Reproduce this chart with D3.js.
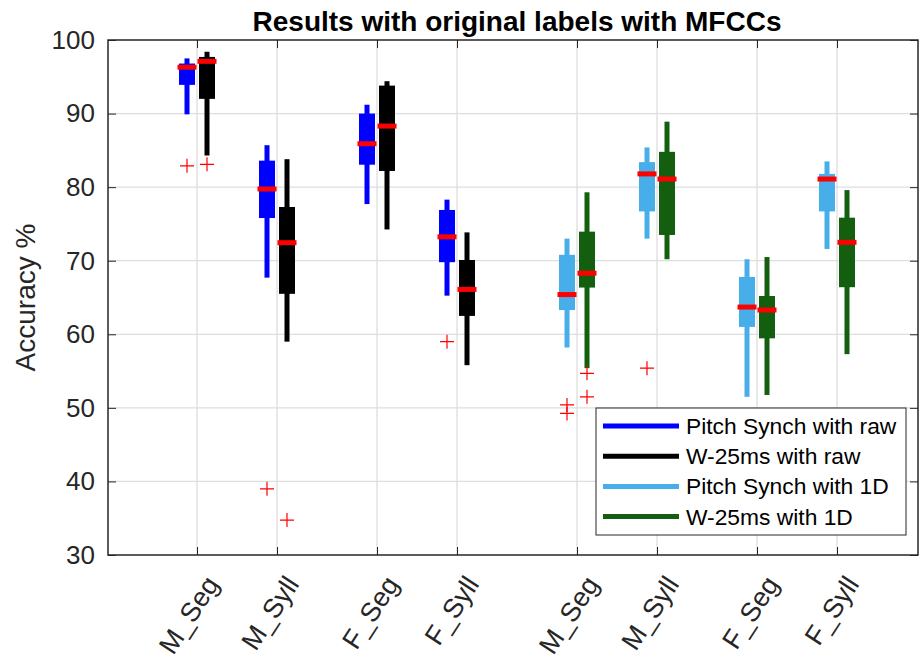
<!DOCTYPE html>
<html>
<head>
<meta charset="utf-8">
<script src="https://cdn.jsdelivr.net/npm/d3@7/dist/d3.min.js"></script>
<style>
  html, body { margin: 0; padding: 0; background: #fff; }
  svg { display: block; font-family: "Liberation Sans", Arial, Helvetica, sans-serif; }
</style>
</head>
<body>
<svg id="chart" width="922" height="658"></svg>
<script>
// Category labels along the x axis and where each group sits
const categories = ["M_Seg", "M_Syll", "F_Seg", "F_Syll", "M_Seg", "M_Syll", "F_Seg", "F_Syll"];
const tickPositions = [1, 1.8, 2.8, 3.6, 4.8, 5.6, 6.6, 7.4];
const yTicks = [30, 40, 50, 60, 70, 80, 90, 100];

// Box statistics per category: [lower whisker, Q1, median, Q3, upper whisker]
const pitchSynchRaw = [
  [89.9, 93.9, 96.3, 96.8, 97.5],
  [67.7, 75.8, 79.75, 83.6, 85.7],
  [77.7, 83.05, 85.9, 90.0, 91.2],
  [65.25, 69.8, 73.25, 76.9, 78.3]
];
const w25Raw = [
  [84.3, 92.0, 97.1, 97.7, 98.4],
  [59.0, 65.5, 72.45, 77.3, 83.8],
  [74.25, 82.2, 88.3, 93.8, 94.4],
  [55.8, 62.5, 66.1, 70.1, 73.85]
];
const pitchSynch1D = [
  [58.2, 63.3, 65.4, 70.8, 73.0],
  [73.0, 76.7, 81.8, 83.4, 85.4],
  [51.5, 61.0, 63.7, 67.8, 70.2],
  [71.6, 76.7, 81.1, 81.8, 83.5]
];
const w251D = [
  [55.4, 66.35, 68.3, 73.95, 79.3],
  [70.2, 73.5, 81.1, 84.8, 88.9],
  [51.75, 59.45, 63.3, 65.2, 70.5],
  [57.3, 66.4, 72.5, 75.85, 79.6]
];

// Outliers per category
const pitchSynchRawOut = [[82.9], [39.0], [], [59.0]];
const w25RawOut = [[83.1], [34.75], [], []];
const pitchSynch1DOut = [[50.4, 49.25], [55.4], [], []];
const w251DOut = [[54.7, 51.5], [], [], []];

const seriesNames = ["Pitch Synch with raw", "W-25ms with raw", "Pitch Synch with 1D", "W-25ms with 1D"];
const seriesColors = ["#0000ff", "#000000", "#47aeea", "#135f0f"];

const series = [
  { name: seriesNames[0], color: seriesColors[0], stats: pitchSynchRaw, outliers: pitchSynchRawOut, firstGroup: 0, offset: -0.1 },
  { name: seriesNames[1], color: seriesColors[1], stats: w25Raw, outliers: w25RawOut, firstGroup: 0, offset: 0.1 },
  { name: seriesNames[2], color: seriesColors[2], stats: pitchSynch1D, outliers: pitchSynch1DOut, firstGroup: 4, offset: -0.1 },
  { name: seriesNames[3], color: seriesColors[3], stats: w251D, outliers: w251DOut, firstGroup: 4, offset: 0.1 }
];

const svg = d3.select("#chart");
const plotLeft = 108, plotRight = 918, plotTop = 40, plotBottom = 555;
const axisColor = "#262626";

const x = d3.scaleLinear().domain([0.11, 8.21]).range([plotLeft, plotRight]);
const y = d3.scaleLinear().domain([30, 100]).range([plotBottom, plotTop]);

// Grid
const grid = svg.append("g").attr("stroke", "#dedede").attr("stroke-width", 1.3);
grid.selectAll("line.h").data(yTicks.slice(1, -1)).join("line")
  .attr("class", "h")
  .attr("x1", plotLeft).attr("x2", plotRight)
  .attr("y1", d => y(d)).attr("y2", d => y(d));
grid.selectAll("line.v").data(tickPositions).join("line")
  .attr("class", "v")
  .attr("y1", plotTop).attr("y2", plotBottom)
  .attr("x1", d => x(d)).attr("x2", d => x(d));

// Boxes
const boxW = 16, whiskW = 5, medW = 19, medH = 5;
const marks = svg.append("g");
series.forEach(s => {
  s.stats.forEach((st, i) => {
    const cx = x(tickPositions[s.firstGroup + i] + s.offset);
    const [lo, q1, med, q3, hi] = st;
    marks.append("rect")
      .attr("x", cx - whiskW / 2).attr("width", whiskW)
      .attr("y", y(hi)).attr("height", y(lo) - y(hi))
      .attr("fill", s.color);
    marks.append("rect")
      .attr("x", cx - boxW / 2).attr("width", boxW)
      .attr("y", y(q3)).attr("height", y(q1) - y(q3))
      .attr("fill", s.color);
    marks.append("rect")
      .attr("x", cx - medW / 2).attr("width", medW)
      .attr("y", y(med) - medH / 2).attr("height", medH)
      .attr("fill", "#ff0000");
    s.outliers[i].forEach(v => {
      const oy = y(v), arm = 7;
      marks.append("path")
        .attr("d", `M${cx - arm},${oy}H${cx + arm}M${cx},${oy - arm}V${oy + arm}`)
        .attr("stroke", "#ff0000").attr("stroke-width", 1.2).attr("fill", "none");
    });
  });
});

// Axes frame and ticks
const yAxisL = d3.axisLeft(y).tickValues(yTicks).tickSize(-8).tickPadding(13).tickFormat(d3.format("d"));
const yAxisR = d3.axisRight(y).tickValues(yTicks).tickSize(-8).tickFormat("");
const xAxisB = d3.axisBottom(x).tickValues(tickPositions).tickSize(-8).tickFormat("");
const xAxisT = d3.axisTop(x).tickValues(tickPositions).tickSize(-8).tickFormat("");

function styleAxis(g) {
  g.select(".domain").remove();
  g.selectAll(".tick line").attr("stroke", axisColor).attr("stroke-width", 1);
  g.selectAll(".tick text").attr("fill", axisColor);
}

svg.append("g").attr("transform", `translate(${plotLeft},0)`).call(yAxisL).call(styleAxis)
  .call(g => g.selectAll(".tick text").attr("font-size", 26).attr("font-family", "Liberation Sans, Arial, sans-serif"));
svg.append("g").attr("transform", `translate(${plotRight},0)`).call(yAxisR).call(styleAxis);
svg.append("g").attr("transform", `translate(0,${plotBottom})`).call(xAxisB).call(styleAxis);
svg.append("g").attr("transform", `translate(0,${plotTop})`).call(xAxisT).call(styleAxis);
svg.append("rect").attr("x", plotLeft).attr("y", plotTop)
  .attr("width", plotRight - plotLeft).attr("height", plotBottom - plotTop)
  .attr("fill", "none").attr("stroke", axisColor).attr("stroke-width", 1.5);

// Rotated category labels
svg.append("g").selectAll("text").data(categories).join("text")
  .attr("transform", (d, i) => `translate(${x(tickPositions[i]) + 15},${579}) rotate(-57)`)
  .attr("text-anchor", "end").attr("dy", "0.35em")
  .attr("font-size", 27).attr("fill", axisColor)
  .text(d => d);

// Axis title and chart title
svg.append("text")
  .attr("transform", `translate(${35},${(plotTop + plotBottom) / 2}) rotate(-90)`)
  .attr("text-anchor", "middle").attr("font-size", 28).attr("fill", axisColor)
  .text("Accuracy %");

svg.append("text")
  .attr("x", (plotLeft + plotRight) / 2 + 4).attr("y", 31)
  .attr("text-anchor", "middle").attr("font-size", 28).attr("font-weight", "bold").attr("fill", "#000")
  .text("Results with original labels with MFCCs");

// Legend
const lg = svg.append("g");
lg.append("rect").attr("x", 596).attr("y", 408).attr("width", 310).attr("height", 127)
  .attr("fill", "#fff").attr("stroke", axisColor).attr("stroke-width", 1);
series.forEach((s, i) => {
  const ly = 426 + i * 30.2;
  lg.append("line").attr("x1", 603).attr("x2", 679).attr("y1", ly).attr("y2", ly)
    .attr("stroke", s.color).attr("stroke-width", 5);
  lg.append("text").attr("x", 686).attr("y", ly).attr("dy", "0.35em")
    .attr("font-size", 22.8).attr("fill", "#000").text(s.name);
});
</script>
</body>
</html>
